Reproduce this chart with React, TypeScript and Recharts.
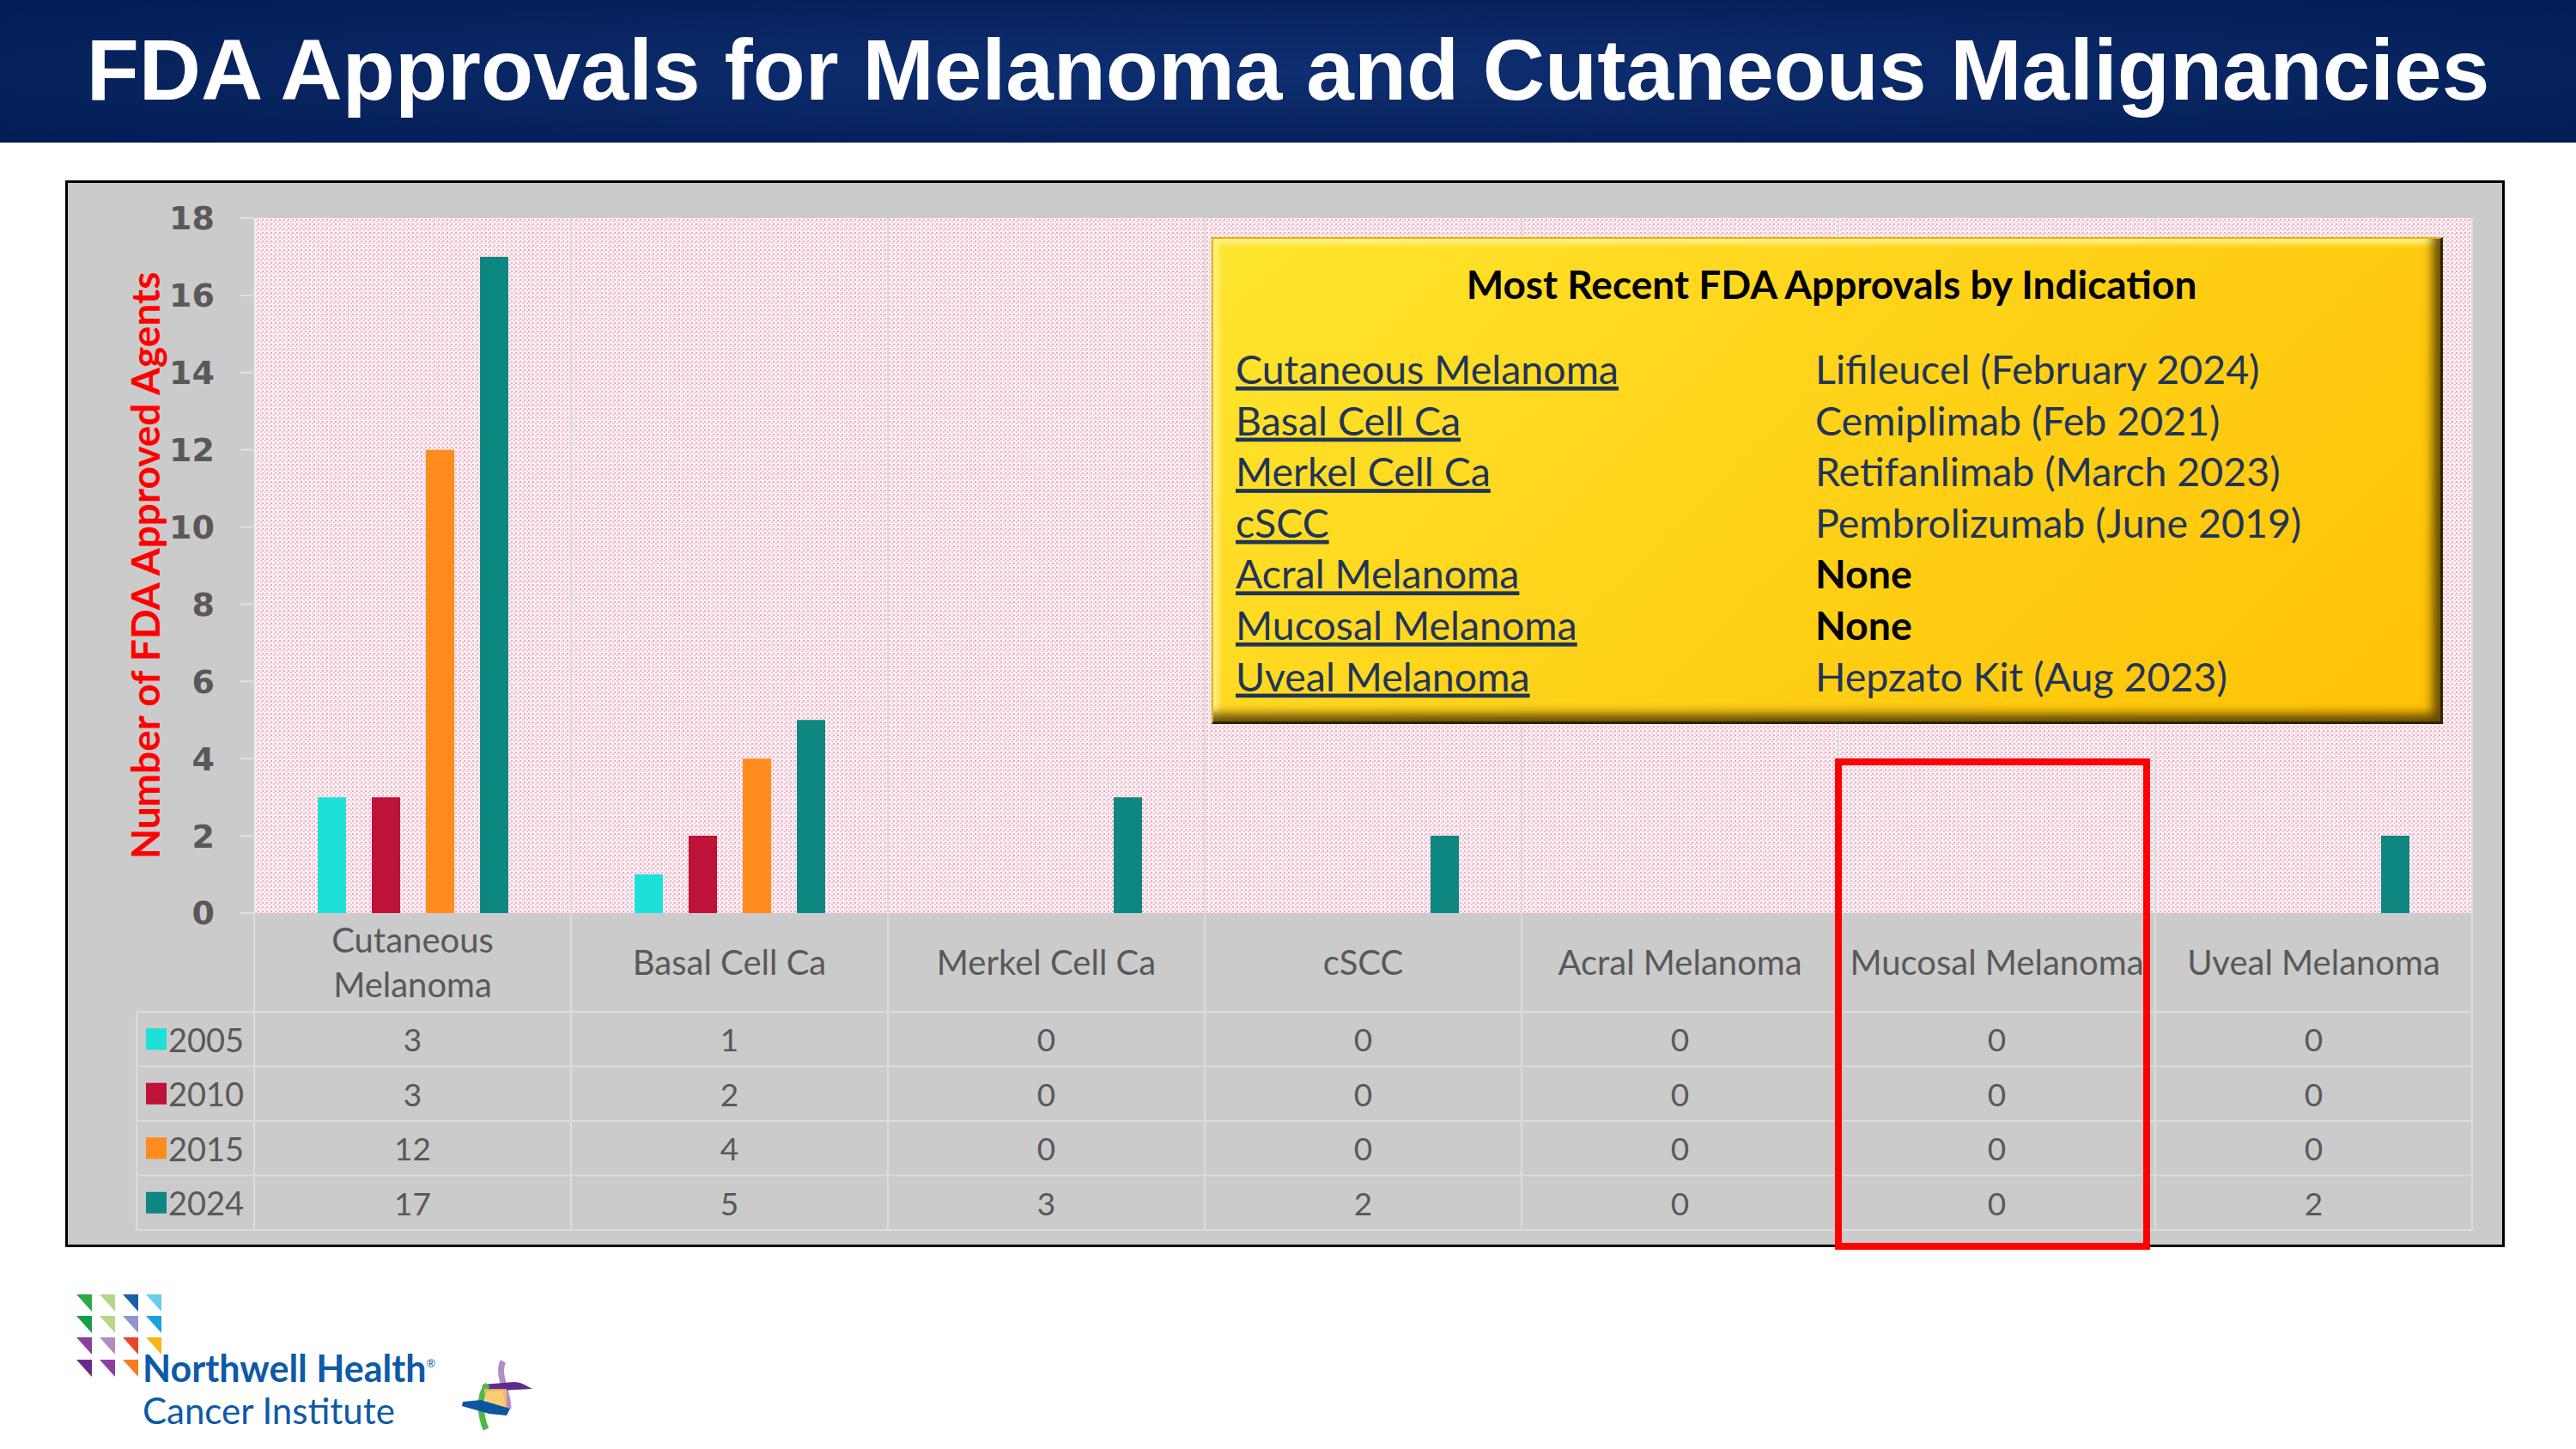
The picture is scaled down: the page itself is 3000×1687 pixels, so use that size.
import React from 'react';
import { BarChart, Bar, XAxis, YAxis, CartesianGrid, Label } from 'recharts';

// chart values
const categories = [
  'Cutaneous Melanoma', 'Basal Cell Ca', 'Merkel Cell Ca', 'cSCC',
  'Acral Melanoma', 'Mucosal Melanoma', 'Uveal Melanoma',
];
const categoryLines = [
  ['Cutaneous', 'Melanoma'], ['Basal Cell Ca'], ['Merkel Cell Ca'], ['cSCC'],
  ['Acral Melanoma'], ['Mucosal Melanoma'], ['Uveal Melanoma'],
];
const years = ['2005', '2010', '2015', '2024'];
const v2005 = [3, 1, 0, 0, 0, 0, 0];
const v2010 = [3, 2, 0, 0, 0, 0, 0];
const v2015 = [12, 4, 0, 0, 0, 0, 0];
const v2024 = [17, 5, 3, 2, 0, 0, 2];
const yTicks = [0, 2, 4, 6, 8, 10, 12, 14, 16, 18];

const recentIndications = [
  'Cutaneous Melanoma', 'Basal Cell Ca', 'Merkel Cell Ca', 'cSCC',
  'Acral Melanoma', 'Mucosal Melanoma', 'Uveal Melanoma',
];
const recentApprovals = [
  'Lifileucel (February 2024)', 'Cemiplimab (Feb 2021)', 'Retifanlimab (March 2023)',
  'Pembrolizumab (June 2019)', 'None', 'None', 'Hepzato Kit (Aug 2023)',
];

const seriesValues = [v2005, v2010, v2015, v2024];
const seriesColors = ['#1DE0D8', '#BE1238', '#FF8C1C', '#0D877F'];

const data = categories.map((name, i) => ({
  name,
  y2005: v2005[i],
  y2010: v2010[i],
  y2015: v2015[i],
  y2024: v2024[i],
}));

// layout (page pixels)
const PLOT_LEFT = 296;
const PLOT_RIGHT = 2879;
const PLOT_TOP = 254;
const PLOT_BOTTOM = 1063;
const TABLE_BOTTOM = 1432;
const BAND = (PLOT_RIGHT - PLOT_LEFT) / categories.length;
const LABEL_ROW_H = 115;
const ROW_H = (TABLE_BOTTOM - PLOT_BOTTOM - LABEL_ROW_H) / years.length;
const Y_AXIS_W = 200;

const CALIBRI = 'Lato, "Noto Sans", sans-serif';
const GRAY_TEXT = '#595959';
const TABLE_LINE = '#dcdcdc';

function TableTick(props: any) {
  const { x, y, index } = props;
  const i: number = index;
  const left = x - BAND / 2;
  const right = x + BAND / 2;
  const lines = categoryLines[i] || [];
  const plotH = PLOT_BOTTOM - PLOT_TOP;
  const tableH = TABLE_BOTTOM - PLOT_BOTTOM;
  const legendLeft = left - 137;
  return (
    <g>
      <line x1={left} x2={left} y1={y - plotH} y2={y + tableH} stroke={TABLE_LINE} strokeWidth={2} />
      {i === categories.length - 1 && (
        <line x1={right} x2={right} y1={y - plotH} y2={y + tableH} stroke={TABLE_LINE} strokeWidth={2} />
      )}
      {lines.map((t, k) => (
        <text
          key={k}
          x={x}
          y={y + 57 + (k - (lines.length - 1) / 2) * 52}
          textAnchor="middle"
          dominantBaseline="central"
          fontFamily={CALIBRI}
          fontSize={40}
          fill={GRAY_TEXT}
        >
          {t}
        </text>
      ))}
      {[0, 1, 2, 3, 4].map((r) => (
        <line
          key={r}
          x1={i === 0 ? legendLeft : left}
          x2={right}
          y1={y + LABEL_ROW_H + r * ROW_H}
          y2={y + LABEL_ROW_H + r * ROW_H}
          stroke={TABLE_LINE}
          strokeWidth={2}
        />
      ))}
      {seriesValues.map((vals, r) => (
        <text
          key={r}
          x={x}
          y={y + LABEL_ROW_H + (r + 0.5) * ROW_H}
          textAnchor="middle"
          dominantBaseline="central"
          fontFamily={CALIBRI}
          fontSize={37}
          fill={GRAY_TEXT}
        >
          {vals[i]}
        </text>
      ))}
      {i === 0 && (
        <g>
          <line
            x1={legendLeft}
            x2={legendLeft}
            y1={y + LABEL_ROW_H}
            y2={y + tableH}
            stroke={TABLE_LINE}
            strokeWidth={2}
          />
          {years.map((yr, r) => {
            const cy = y + LABEL_ROW_H + (r + 0.5) * ROW_H;
            return (
              <g key={yr}>
                <rect x={legendLeft + 11} y={cy - 12.5} width={24} height={25} fill={seriesColors[r]} />
                <text
                  x={legendLeft + 37}
                  y={cy}
                  dominantBaseline="central"
                  fontFamily={CALIBRI}
                  fontSize={38}
                  fill={GRAY_TEXT}
                >
                  {yr}
                </text>
              </g>
            );
          })}
        </g>
      )}
    </g>
  );
}

function YLabel(props: any) {
  const vb = props.viewBox || {};
  const cx = vb.x + 72;
  const cy = vb.y + vb.height / 2;
  return (
    <text
      x={cx}
      y={cy}
      transform={`rotate(-90 ${cx} ${cy})`}
      textAnchor="middle"
      dominantBaseline="central"
      fontFamily={CALIBRI}
      fontWeight="bold"
      fontSize={46}
      fill="#FF0000"
    >
      Number of FDA Approved Agents
    </text>
  );
}

function NorthwellLogo() {
  const cols = [89, 116, 143, 170];
  const rows = [1507, 1532, 1557, 1583];
  const triColors = [
    ['#2EA84A', '#B5D68A', '#1A5EA8', '#6ACCEB'],
    ['#13A04A', '#B8D78B', '#8E96CF', '#1AA2DD'],
    ['#8B3F9E', '#B38BC2', '#E8482B', '#FDB515'],
    ['#6A2C8C', '#8E3F9D', '#F47B20', ''],
  ];
  return (
    <svg
      width={700}
      height={207}
      viewBox="0 1480 700 207"
      style={{ position: 'absolute', left: 0, top: 1480 }}
    >
      {triColors.map((row, r) =>
        row.map((c, k) =>
          c ? (
            <polygon
              key={`${r}-${k}`}
              points={`${cols[k]},${rows[r]} ${cols[k] + 18},${rows[r]} ${cols[k] + 18},${rows[r] + 20}`}
              fill={c}
            />
          ) : null,
        ),
      )}
      <text x={166} y={1609} fontFamily={CALIBRI} fontWeight="bold" fontSize={43} fill="#0D5AA7">
        Northwell Health
        <tspan fontSize={13} dy={-17} fontWeight="normal">®</tspan>
      </text>
      <text x={166} y={1658} fontFamily={CALIBRI} fontSize={42} fill="#0D5AA7">
        Cancer Institute
      </text>
      {/* helix mark */}
      <path d="M586,1585 C578,1600 592,1620 592,1640" stroke="#B58CC6" strokeWidth={7} fill="none" />
      <path d="M562,1612 L598,1609 C608,1609 614,1614 620,1617 L600,1618 L563,1620 Z" fill="#5E2C8E" />
      <path d="M568,1612 C556,1625 560,1650 566,1664" stroke="#4DB748" strokeWidth={7} fill="none" />
      <path d="M564,1617 L590,1617 L590,1640 L566,1640 Z" fill="#F8C65A" opacity={0.85} />
      <path d="M539,1632 L560,1630 L594,1640 L590,1648 L570,1646 L538,1637 Z" fill="#0E55A2" />
    </svg>
  );
}

export default function App() {
  return (
    <div
      style={{
        position: 'absolute',
        left: 0,
        top: 0,
        width: 3000,
        height: 1687,
        background: '#ffffff',
        overflow: 'hidden',
      }}
    >
      <svg width={0} height={0} style={{ position: 'absolute' }}>
        <defs>
          <pattern id="pinkDots" x={0} y={0} width={5} height={5} patternUnits="userSpaceOnUse">
            <rect x={0} y={0} width={5} height={5} fill="#FCF2F5" />
            <rect x={0} y={0} width={2} height={2} fill="#EFA9C0" />
            <rect x={3} y={2} width={2} height={2} fill="#F4C3D2" />
          </pattern>
        </defs>
      </svg>

      {/* title bar */}
      <div
        style={{
          position: 'absolute',
          left: 0,
          top: 0,
          width: 3000,
          height: 166,
          background: 'radial-gradient(ellipse at center, #0f2f72 0%, #07245f 60%, #021c56 100%)',
          color: '#ffffff',
          fontFamily: '"Liberation Sans", Arial, sans-serif',
          fontWeight: 'bold',
          fontSize: 100,
          lineHeight: '162px',
          textAlign: 'center',
          whiteSpace: 'nowrap',
        }}
      >
        FDA Approvals for Melanoma and Cutaneous Malignancies
      </div>

      {/* chart frame */}
      <div
        style={{
          position: 'absolute',
          left: 76,
          top: 210,
          width: 2841,
          height: 1242,
          boxSizing: 'border-box',
          border: '3px solid #000000',
          background: '#cbcbcb',
        }}
      />

      <div style={{ position: 'absolute', left: 0, top: 0 }}>
        <BarChart
          width={3000}
          height={1687}
          data={data}
          margin={{ top: PLOT_TOP, right: 3000 - PLOT_RIGHT, bottom: 1687 - TABLE_BOTTOM, left: PLOT_LEFT - Y_AXIS_W }}
          barSize={33}
          barGap={30}
        >
          <CartesianGrid horizontal={false} vertical={false} fill="url(#pinkDots)" />
          <XAxis
            dataKey="name"
            height={TABLE_BOTTOM - PLOT_BOTTOM}
            interval={0}
            axisLine={false}
            tickLine={false}
            tickSize={0}
            tickMargin={0}
            tick={<TableTick />}
          />
          <YAxis
            width={Y_AXIS_W}
            domain={[0, 18]}
            ticks={yTicks}
            interval={0}
            axisLine={false}
            tickLine={{ stroke: '#e2e2e2', strokeWidth: 2 }}
            tickSize={16}
            tickMargin={30}
            tick={{ fontFamily: '"DejaVu Sans", sans-serif', fontWeight: 'bold', fontSize: 38, fill: GRAY_TEXT }}
          >
            <Label content={<YLabel />} />
          </YAxis>
          {years.map((yr, s) => (
            <Bar key={yr} dataKey={`y${yr}`} name={yr} fill={seriesColors[s]} isAnimationActive={false} />
          ))}
        </BarChart>
      </div>

      {/* most recent approvals box */}
      <div
        style={{
          position: 'absolute',
          left: 1411,
          top: 276,
          width: 1434,
          height: 567,
          boxSizing: 'border-box',
          background: 'linear-gradient(135deg, #FFE52E 0%, #FFD319 45%, #FFC206 100%)',
          borderTop: '2px solid #E9B400',
          borderLeft: '2px solid #E9B400',
          borderRight: '3px solid #2F2500',
          borderBottom: '3px solid #2F2500',
          boxShadow:
            'inset -15px -15px 12px -6px rgba(75,55,0,0.85), inset 12px 12px 6px -6px rgba(255,242,140,0.95)',
        }}
      >
        <svg width={1434} height={567} style={{ position: 'absolute', left: -2, top: -2 }}>
          <text
            x={722}
            y={72}
            textAnchor="middle"
            fontFamily={CALIBRI}
            fontWeight="bold"
            fontSize={46}
            fill="#000000"
          >
            Most Recent FDA Approvals by Indication
          </text>
          {recentIndications.map((name, r) => (
            <g key={name}>
              <text
                x={28}
                y={171 + r * 59.6}
                fontFamily={CALIBRI}
                fontSize={46.5}
                fill="#1F3458"
                textDecoration="underline"
              >
                {name}
              </text>
              <text
                x={703}
                y={171 + r * 59.6}
                fontFamily={CALIBRI}
                fontSize={46.5}
                fontWeight={recentApprovals[r] === 'None' ? 'bold' : 'normal'}
                fill={recentApprovals[r] === 'None' ? '#000000' : '#1F3458'}
              >
                {recentApprovals[r]}
              </text>
            </g>
          ))}
        </svg>
      </div>

      {/* highlight around mucosal melanoma */}
      <div
        style={{
          position: 'absolute',
          left: 2137,
          top: 883,
          width: 367,
          height: 572,
          boxSizing: 'border-box',
          border: '8px solid #FF0000',
        }}
      />

      <NorthwellLogo />
    </div>
  );
}
